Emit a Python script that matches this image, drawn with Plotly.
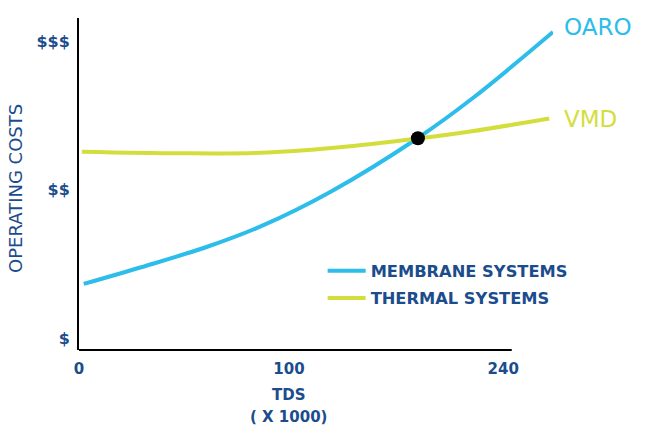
import plotly.graph_objects as go

# Schematic x positions (0..100 across the drawn curve span) and cost levels ($=1, $$=2, $$$=3)
membrane_x = [1.0, 13.3, 27.2, 38.8, 53.0, 71.5, 83.1, 100.0]
membrane_y = [1.364, 1.478, 1.616, 1.758, 1.983, 2.347, 2.616, 3.061]
thermal_x = [0.6, 21.3, 38.2, 54.4, 71.5, 82.5, 99.2]
thermal_y = [2.2545, 2.2438, 2.2471, 2.2828, 2.3434, 2.3906, 2.4781]
crossing_x = [71.5]
crossing_y = [2.345]
x_tick_pos = [0, 44.3, 89.5]
x_tick_labels = ["0", "100", "240"]
y_tick_pos = [1, 2, 3]
y_tick_labels = ["$", "$$", "$$$"]
x_axis_end = 91.3

BLUE = "#2dbdea"
YELLOW = "#d3de3c"
NAVY = "#1b4c8c"
FONT = "DejaVu Sans"

fig = go.Figure()
fig.add_trace(go.Scatter(x=membrane_x, y=membrane_y, mode="lines", name="MEMBRANE SYSTEMS",
                         line=dict(color=BLUE, width=4, shape="spline", smoothing=1), legendgroup="a"))
fig.add_trace(go.Scatter(x=thermal_x, y=thermal_y, mode="lines", name="THERMAL SYSTEMS",
                         line=dict(color=YELLOW, width=4, shape="spline", smoothing=1), legendgroup="b"))
fig.add_trace(go.Scatter(x=crossing_x, y=crossing_y, mode="markers", showlegend=False,
                         marker=dict(color="black", size=14), cliponaxis=False))

fig.add_annotation(x=membrane_x[-1], y=membrane_y[-1], text="OARO", showarrow=False,
                   xanchor="left", yanchor="middle", xshift=9, yshift=5,
                   font=dict(family=FONT, size=23, color=BLUE))
fig.add_annotation(x=thermal_x[-1], y=thermal_y[-1], text="VMD", showarrow=False,
                   xanchor="left", yanchor="middle", xshift=13, yshift=0,
                   font=dict(family=FONT, size=23, color=YELLOW))
fig.add_annotation(x=x_tick_pos[1], xref="x", y=-0.1355, yref="paper", text="TDS",
                   showarrow=False, xanchor="center", yanchor="middle",
                   font=dict(family=FONT, size=15, color=NAVY, weight="bold"))
fig.add_annotation(x=x_tick_pos[1], xref="x", y=-0.2018, yref="paper", text="( X 1000)",
                   showarrow=False, xanchor="center", yanchor="middle",
                   font=dict(family=FONT, size=15, color=NAVY, weight="bold"))
fig.add_annotation(x=-0.133, xref="paper", y=0.488, yref="paper", text="OPERATING COSTS",
                   showarrow=False, textangle=-90, xanchor="center", yanchor="middle",
                   font=dict(family=FONT, size=18, color=NAVY))

fig.add_shape(type="line", xref="x", yref="paper", x0=0, x1=x_axis_end, y0=0, y1=0,
              line=dict(color="black", width=2))

fig.update_layout(
    width=650, height=427,
    margin=dict(l=79, r=97, t=18, b=77),
    plot_bgcolor="white", paper_bgcolor="white",
    showlegend=True,
    legend=dict(x=0.514, y=0.29, xanchor="left", yanchor="top", bgcolor="rgba(0,0,0,0)",
                font=dict(family=FONT, size=16.3, color=NAVY, weight="bold"),
                tracegroupgap=3, itemwidth=38),
    xaxis=dict(range=[0, 100], showgrid=False, zeroline=False, showline=False,
               tickvals=x_tick_pos, ticktext=x_tick_labels, ticks="", ticklabelstandoff=8,
               tickfont=dict(family=FONT, size=15, color=NAVY, weight="bold")),
    yaxis=dict(range=[0.919, 3.155], showgrid=False, zeroline=False, showline=True,
               linecolor="black", linewidth=2,
               tickvals=y_tick_pos, ticktext=y_tick_labels, ticks="", ticklabelstandoff=4,
               tickfont=dict(family=FONT, size=16, color=NAVY, weight="bold")),
)

fig.write_html("out.html")
